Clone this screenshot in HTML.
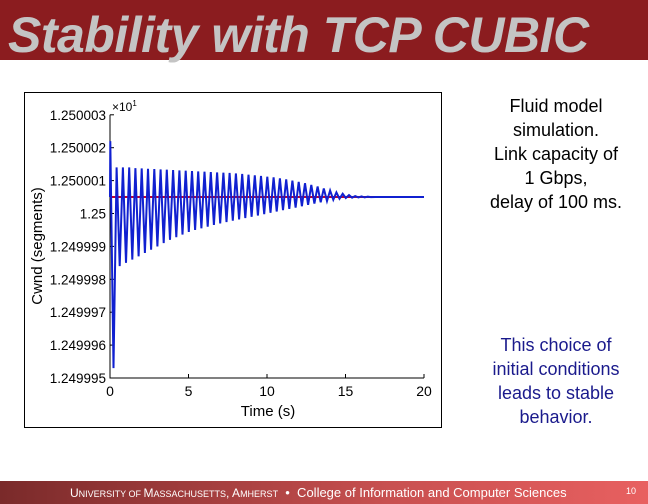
<!DOCTYPE html>
<html><head><meta charset="utf-8"><style>
body{margin:0;width:648px;height:504px;background:#fff;position:relative;overflow:hidden;font-family:"Liberation Sans",sans-serif}
#bar{position:absolute;left:0;top:0;width:648px;height:60px;background:#8b1c1f}
#title{position:absolute;left:8px;top:6px;font-size:50px;font-weight:bold;font-style:italic;color:#c4c4c4;white-space:nowrap;letter-spacing:-0.5px}
#footer{position:absolute;left:0;top:481px;width:648px;height:23px;background:linear-gradient(90deg,#7a2a2a,#c85050 60%,#e86060)}
#foottext{position:absolute;left:70px;top:485px;color:#fff;font-size:13px;white-space:nowrap}
#pnum{position:absolute;left:626px;top:486px;color:#fff;font-size:9px}
.txt{position:absolute;left:470px;width:172px;text-align:center;font-size:18px;line-height:24px}
</style></head><body>
<div id="bar"></div>
<div id="title">Stability with TCP CUBIC</div>
<svg id="chart" width="648" height="504" style="position:absolute;left:0;top:0"></svg>
<div class="txt" style="top:94px;color:#000">Fluid model<br>simulation.<br>Link capacity of<br>1 Gbps,<br>delay of 100 ms.</div>
<div class="txt" style="top:333px;color:#1a1a8c">This choice of<br>initial conditions<br>leads to stable<br>behavior.</div>
<div id="footer"></div>
<div id="foottext"><span style="font-size:12px">U<span style="font-size:9px">NIVERSITY OF </span>M<span style="font-size:9px">ASSACHUSETTS</span>, A<span style="font-size:9px">MHERST</span></span> &nbsp;•&nbsp; College of Information and Computer Sciences</div>
<div id="pnum">10</div>
<script>
const xTicks=[0,5,10,15,20];
const yTicks=["1.249995","1.249996","1.249997","1.249998","1.249999","1.25","1.250001","1.250002","1.250003"];
const yTickVals=[-5,-4,-3,-2,-1,0,1,2,3];
const period=0.4;
const upperPeaks=[2.2,1.4,1.4,1.4,1.38,1.37,1.36,1.35,1.34,1.33,1.32,1.31,1.3,1.29,1.28,1.27,1.26,1.25,1.24,1.23,1.22,1.2,1.18,1.16,1.14,1.12,1.1,1.07,1.04,1.0,0.96,0.92,0.87,0.82,0.76,0.7,0.64,0.6,0.56,0.53,0.52,0.51];
const lowerTroughs=[-4.7,-1.6,-1.5,-1.4,-1.3,-1.2,-1.1,-1.0,-0.9,-0.8,-0.72,-0.64,-0.56,-0.5,-0.45,-0.4,-0.35,-0.3,-0.26,-0.22,-0.18,-0.14,-0.1,-0.06,-0.02,0.02,0.06,0.1,0.14,0.18,0.22,0.26,0.3,0.34,0.38,0.42,0.45,0.47,0.48,0.49,0.49,0.5];
const equilibrium=0.5;
const tEnd=20;
const NS="http://www.w3.org/2000/svg";
const svg=document.getElementById('chart');
const X=t=>110+t*(424-110)/20;
const Y=v=>213.5-v*32.9;
function mk(tag,at){const e=document.createElementNS(NS,tag);for(const k in at)e.setAttribute(k,at[k]);svg.appendChild(e);return e;}
const frame=mk('rect',{x:24.5,y:92.5,width:417,height:335,fill:'none',stroke:'#000','stroke-width':1});


const ax=mk('path',{d:`M${X(0)},${Y(3)}V${Y(-5)}H${X(20)}`,fill:'none',stroke:'#000','stroke-width':1});


yTicks.forEach((s,i)=>{const y=Y(yTickVals[i]);
 mk('line',{x1:X(0),x2:X(0)+4,y1:y,y2:y,stroke:'#000'});
 const t=mk('text',{x:106,y:y+5,'text-anchor':'end','font-size':13.5,fill:'#000'});t.textContent=s;
 
 });
xTicks.forEach(v=>{const x=X(v);
 mk('line',{x1:x,x2:x,y1:Y(-5),y2:Y(-5)-4,stroke:'#000'});
 const t=mk('text',{x:x,y:396,'text-anchor':'middle','font-size':14,fill:'#000'});t.textContent=v;
 
 });
const xt=mk('text',{x:268,y:416,'text-anchor':'middle','font-size':15});xt.textContent='Time (s)';


const yt=mk('text',{x:0,y:0,'text-anchor':'middle','font-size':15,transform:'translate(42,246) rotate(-90)'});yt.textContent='Cwnd (segments)';


const ex=mk('text',{x:112,y:111,'font-size':12});ex.innerHTML='×10<tspan dy="-5" font-size="8">1</tspan>';


let d=`M${X(0)},${Y(equilibrium)}`;
upperPeaks.forEach((u,k)=>{const t=k*period;
 d+=`L${X(t+0.02).toFixed(1)},${Y(u).toFixed(1)}L${X(t+period/2+0.02).toFixed(1)},${Y(lowerTroughs[k]).toFixed(1)}`;});
d+=`L${X(upperPeaks.length*period+0.1)},${Y(equilibrium)}L${X(tEnd)},${Y(equilibrium)}`;
const red=mk('line',{x1:X(0),x2:X(tEnd),y1:Y(equilibrium),y2:Y(equilibrium),stroke:'#c00030','stroke-width':2});


const blue=mk('path',{d:d,fill:'none',stroke:'#1020d0','stroke-width':2});


</script>
</body></html>
